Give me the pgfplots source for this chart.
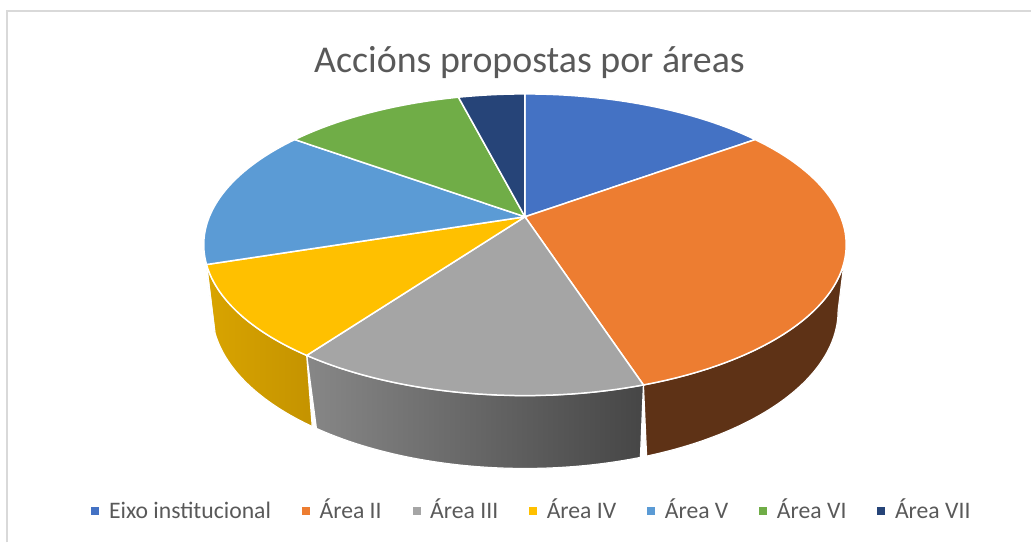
\documentclass[border=0pt]{standalone}
\usepackage{fontspec}
\setmainfont{Carlito}
\usepackage{pgfplots}
\usepackage{pgfplotstable}
\pgfplotsset{compat=1.18}

\definecolor{cA}{HTML}{4472C4}
\definecolor{cB}{HTML}{ED7D31}
\definecolor{cC}{HTML}{A5A5A5}
\definecolor{cD}{HTML}{FFC000}
\definecolor{cE}{HTML}{5B9BD5}
\definecolor{cF}{HTML}{70AD47}
\definecolor{cG}{HTML}{264478}
\definecolor{sideB}{HTML}{5E3216}
\definecolor{sideCl}{HTML}{878787}
\definecolor{sideCr}{HTML}{464646}
\definecolor{sideDl}{HTML}{D9A400}
\definecolor{sideDr}{HTML}{C49300}
\definecolor{sideE}{HTML}{3F6E99}
\definecolor{tcol}{HTML}{595959}
\definecolor{frame}{HTML}{D9D9D9}

\pgfplotstableread{
name value
Eixo 15
II 30
III 15
IV 10
V 15
VI 11
VII 4
}\piedata

\begin{document}
\begin{tikzpicture}[declare function={
  ww(\q)=1+0.1854*cos(\q);
  px(\q)=525.5+316*sin(\q)/ww(\q);
  py(\q)=217-145.8*cos(\q)/ww(\q);
  bx(\q)=525.5+308*sin(\q)/ww(\q);
  by(\q)=py(\q)+64.5/(1+0.116*cos(\q));
  sx(\argu,\args,\arge)=(\argu<1.005)*px(\args+\argu*(\arge-\args))+(\argu>=1.005)*bx(\arge-(\argu-1)*(\arge-\args));
  sy(\argu,\args,\arge)=(\argu<1.005)*py(\args+\argu*(\arge-\args))+(\argu>=1.005)*by(\arge-(\argu-1)*(\arge-\args));
}]
\pgfplotstablegetelem{0}{value}\of\piedata \let\vA\pgfplotsretval
\pgfplotstablegetelem{1}{value}\of\piedata \let\vB\pgfplotsretval
\pgfplotstablegetelem{2}{value}\of\piedata \let\vC\pgfplotsretval
\pgfplotstablegetelem{3}{value}\of\piedata \let\vD\pgfplotsretval
\pgfplotstablegetelem{4}{value}\of\piedata \let\vE\pgfplotsretval
\pgfplotstablegetelem{5}{value}\of\piedata \let\vF\pgfplotsretval
\pgfplotstablegetelem{6}{value}\of\piedata \let\vG\pgfplotsretval
\pgfmathsetmacro\tot{\vA+\vB+\vC+\vD+\vE+\vF+\vG}
\pgfmathsetmacro\aA{0}
\pgfmathsetmacro\aB{\aA+360*\vA/\tot}
\pgfmathsetmacro\aC{\aB+360*\vB/\tot}
\pgfmathsetmacro\aD{\aC+360*\vC/\tot}
\pgfmathsetmacro\aE{\aD+360*\vD/\tot}
\pgfmathsetmacro\aF{\aE+360*\vE/\tot}
\pgfmathsetmacro\aG{\aF+360*\vF/\tot}
\pgfmathsetmacro\aH{360}
% visible side range
\pgfmathsetmacro\sBs{max(\aB,100.7)}\pgfmathsetmacro\sBe{min(\aC,259.3)}
\pgfmathsetmacro\sCs{max(\aC,100.7)}\pgfmathsetmacro\sCe{min(\aD,259.3)}
\pgfmathsetmacro\sDs{max(\aD,100.7)}\pgfmathsetmacro\sDe{min(\aE,259.3)}
\pgfmathsetmacro\sEs{max(\aE,100.7)}\pgfmathsetmacro\sEe{min(\aF,259.3)}
\begin{axis}[hide axis, scale only axis, width=516pt, height=271.5pt,
  xmin=0, xmax=1032, ymin=0, ymax=543, y dir=reverse, clip=false,
  legend columns=-1,
  legend image code/.code={\fill[#1,draw=none] (0pt,-2pt) rectangle (4pt,2pt);},
  legend style={at={(axis cs:531.5,511.5)}, anchor=center, draw=none, fill=none,
    font=\fontsize{11.85}{14}\selectfont, text=tcol,
    nodes={inner sep=0pt, text height=9pt, text depth=1.4pt},
    /tikz/every odd column/.append style={column sep=4.8pt},
    /tikz/every even column/.append style={column sep=15.5pt},
    /tikz/column 2/.append style={column sep=18.3pt}},
]
\path (axis cs:0,0) (axis cs:1032,543);
\draw[color=frame, line width=1pt] (axis cs:7,543) -- (axis cs:7,11) -- (axis cs:1032,11);
\node[anchor=base, font=\fontsize{18.95}{22}\selectfont, text=tcol] at (axis cs:530,73) {Accións propostas por áreas};

% sides
\addplot[forget plot, fill=sideB, draw=white, line width=0.6pt, domain=0:2, samples=121, variable=\u]
  ({sx(\u,\sBs,\sBe)},{sy(\u,\sBs,\sBe)}) -- cycle;
\addplot[forget plot, left color=sideCl, right color=sideCr, draw=white, line width=0.6pt, domain=0:2, samples=121, variable=\u]
  ({sx(\u,\sCs,\sCe)},{sy(\u,\sCs,\sCe)}) -- cycle;
\addplot[forget plot, left color=sideDl, right color=sideDr, draw=white, line width=0.6pt, domain=0:2, samples=121, variable=\u]
  ({sx(\u,\sDs,\sDe)},{sy(\u,\sDs,\sDe)}) -- cycle;
\addplot[forget plot, fill=sideE, draw=white, line width=0.6pt, domain=0:2, samples=41, variable=\u]
  ({sx(\u,\sEs,\sEe)},{sy(\u,\sEs,\sEe)}) -- cycle;

% top faces
\addplot[fill=cA, draw=white, line width=0.75pt, domain=\aA:\aB, samples=40, variable=\t]
  ({px(\t)},{py(\t)}) -- (axis cs:525.5,217) -- cycle;
\addlegendentry{Eixo institucional}
\addplot[fill=cB, draw=white, line width=0.75pt, domain=\aB:\aC, samples=60, variable=\t]
  ({px(\t)},{py(\t)}) -- (axis cs:525.5,217) -- cycle;
\addlegendentry{Área II}
\addplot[fill=cC, draw=white, line width=0.75pt, domain=\aC:\aD, samples=40, variable=\t]
  ({px(\t)},{py(\t)}) -- (axis cs:525.5,217) -- cycle;
\addlegendentry{Área III}
\addplot[fill=cD, draw=white, line width=0.75pt, domain=\aD:\aE, samples=30, variable=\t]
  ({px(\t)},{py(\t)}) -- (axis cs:525.5,217) -- cycle;
\addlegendentry{Área IV}
\addplot[fill=cE, draw=white, line width=0.75pt, domain=\aE:\aF, samples=40, variable=\t]
  ({px(\t)},{py(\t)}) -- (axis cs:525.5,217) -- cycle;
\addlegendentry{Área V}
\addplot[fill=cF, draw=white, line width=0.75pt, domain=\aF:\aG, samples=30, variable=\t]
  ({px(\t)},{py(\t)}) -- (axis cs:525.5,217) -- cycle;
\addlegendentry{Área VI}
\addplot[fill=cG, draw=white, line width=0.75pt, domain=\aG:\aH, samples=15, variable=\t]
  ({px(\t)},{py(\t)}) -- (axis cs:525.5,217) -- cycle;
\addlegendentry{Área VII}
\end{axis}
\end{tikzpicture}
\end{document}
